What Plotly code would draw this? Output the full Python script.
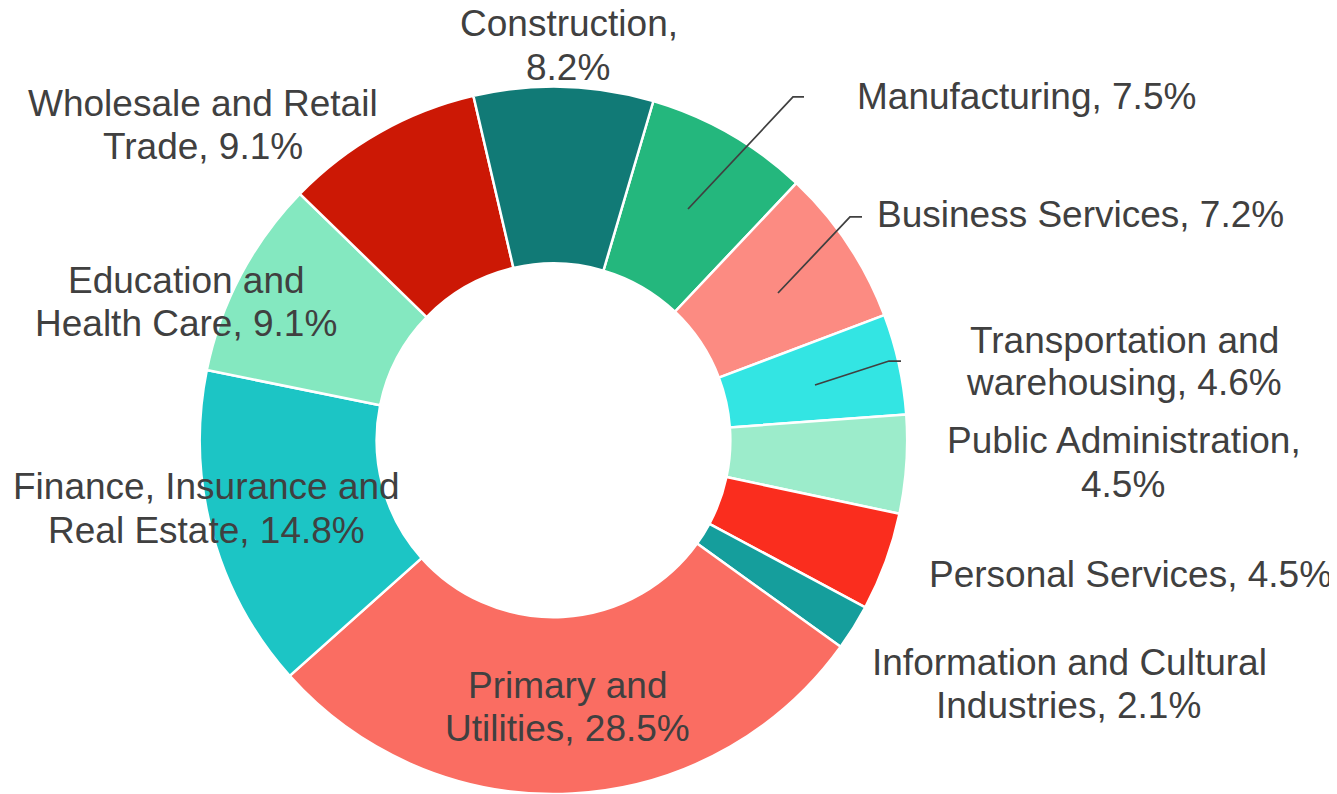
import plotly.graph_objects as go

# ---- data (clockwise from the slice that starts just right of 12 o'clock) ----
categories = [
    "Manufacturing",
    "Business Services",
    "Transportation and warehousing",
    "Public Administration",
    "Personal Services",
    "Information and Cultural Industries",
    "Primary and Utilities",
    "Finance, Insurance and Real Estate",
    "Education and Health Care",
    "Wholesale and Retail Trade",
    "Construction",
]
values = [7.5, 7.2, 4.6, 4.5, 4.5, 2.1, 28.5, 14.8, 9.1, 9.1, 8.2]
colors = [
    "#24B77D", "#FC8B82", "#33E5E3", "#9CECCB", "#FA2D1E", "#159E9C",
    "#FA6D62", "#1CC5C5", "#84E8C0", "#CC1805", "#117A76",
]

# label line breaks ({v} is replaced by the value)
label_lines = {
    "Manufacturing": ["Manufacturing, {v}%"],
    "Business Services": ["Business Services, {v}%"],
    "Transportation and warehousing": ["Transportation and", "warehousing, {v}%"],
    "Public Administration": ["Public Administration,", "{v}%"],
    "Personal Services": ["Personal Services, {v}%"],
    "Information and Cultural Industries": ["Information and Cultural", "Industries, {v}%"],
    "Primary and Utilities": ["Primary and", "Utilities, {v}%"],
    "Finance, Insurance and Real Estate": ["Finance, Insurance and", "Real Estate, {v}%"],
    "Education and Health Care": ["Education and", "Health Care, {v}%"],
    "Wholesale and Retail Trade": ["Wholesale and Retail", "Trade, {v}%"],
    "Construction": ["Construction,", "{v}%"],
}

# ---- layout (window pixel positions of label lines: centre x, baseline y) ----
OFF = 8                      # default page body margin
W, H = 1337 - OFF, 794 - OFF  # figure size so it fits the window
label_pos = {
    "Manufacturing": [(1026.5, 110)],
    "Business Services": [(1080, 228)],
    "Transportation and warehousing": [(1124.5, 353), (1123.5, 395)],
    "Public Administration": [(1123.5, 453), (1123, 497)],
    "Personal Services": [(1130.5, 587)],
    "Information and Cultural Industries": [(1069, 675), (1068.5, 718)],
    "Primary and Utilities": [(567, 698), (567, 741)],
    "Finance, Insurance and Real Estate": [(206, 499), (206.5, 543)],
    "Education and Health Care": [(186, 293), (185.5, 337)],
    "Wholesale and Retail Trade": [(203, 117), (203, 160)],
    "Construction": [(569, 37), (567.5, 80)],
}
leaders = {
    "Manufacturing": [(688, 209), (793, 97), (804, 97)],
    "Business Services": [(778, 293), (850, 217), (862, 217)],
    "Transportation and warehousing": [(815, 385), (889, 361), (901, 361)],
}

TEXT_COLOR = "#404040"
FONT = "Liberation Sans, Arial, sans-serif"
FSIZE = 37


def px(x):
    return (x - OFF) / W


def py(y):
    return 1 - (y - OFF) / H


fig = go.Figure(
    go.Pie(
        labels=categories,
        values=values,
        sort=False,
        direction="clockwise",
        rotation=16.4,
        hole=0.5,
        marker=dict(colors=colors, line=dict(color="white", width=2.5)),
        textinfo="none",
        hoverinfo="label+percent",
        showlegend=False,
        domain=dict(x=[0.1443, 0.6766], y=[0.0, 0.9]),
    )
)

annotations = []
for cat, val in zip(categories, values):
    lines = [t.format(v=f"{val:.1f}") for t in label_lines[cat]]
    for txt, (cx, base) in zip(lines, label_pos[cat]):
        annotations.append(
            dict(
                text=txt,
                x=px(cx),
                y=py(base - 13),
                xref="paper",
                yref="paper",
                xanchor="center",
                yanchor="middle",
                showarrow=False,
                font=dict(family=FONT, size=FSIZE, color=TEXT_COLOR),
            )
        )

shapes = []
for cat, pts in leaders.items():
    path = "M " + " L ".join(f"{px(x):.5f},{py(y):.5f}" for x, y in pts)
    shapes.append(
        dict(
            type="path",
            path=path,
            xref="paper",
            yref="paper",
            line=dict(color=TEXT_COLOR, width=1.75),
        )
    )

fig.update_layout(
    width=W,
    height=H,
    margin=dict(l=0, r=0, t=0, b=0),
    paper_bgcolor="white",
    plot_bgcolor="white",
    annotations=annotations,
    shapes=shapes,
    font=dict(family=FONT, color=TEXT_COLOR),
)

fig.write_html("out.html")
